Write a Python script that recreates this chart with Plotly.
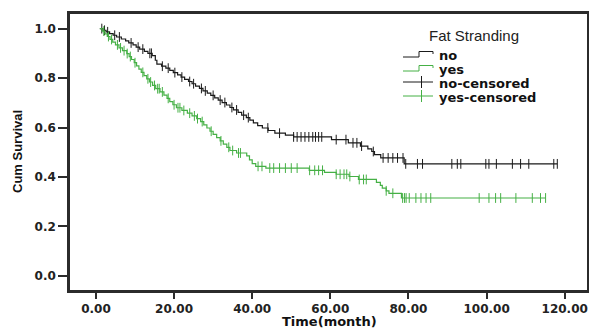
import plotly.graph_objects as go

# ---- data ----
no_time = [0, 1.0, 1.8, 2.6, 3.5, 4.4, 5.3, 6.5, 7.6, 8.4, 9.5, 10.3, 11.2, 12.4, 13.3, 14.4, 15.2, 15.6,
           16.8, 17.9, 18.9, 19.8, 20.9, 21.8, 22.7, 23.7, 24.6, 25.5, 26.5, 27.4, 28.5, 29.4, 30.4, 31.3,
           32.3, 33.4, 34.3, 35.2, 36.4, 37.3, 38.5, 39.4, 40.3, 41.4, 42.6, 44.1, 45.8, 48.5, 50.6, 60.3,
           64.6, 67.7, 69.6, 70.6, 71.3, 72.9, 78.9, 118.1]
no_surv = [1.0, 1.0, 0.993, 0.987, 0.980, 0.973, 0.966, 0.958, 0.950, 0.942, 0.934, 0.925, 0.917, 0.908, 0.900,
           0.891, 0.872, 0.856, 0.848, 0.840, 0.831, 0.822, 0.813, 0.804, 0.795, 0.786, 0.777, 0.767, 0.758,
           0.748, 0.739, 0.730, 0.720, 0.711, 0.701, 0.691, 0.681, 0.671, 0.661, 0.650, 0.640, 0.630, 0.619,
           0.608, 0.598, 0.588, 0.577, 0.569, 0.562, 0.551, 0.538, 0.525, 0.514, 0.503, 0.490, 0.477, 0.453,
           0.453]
no_cens = [1.5, 2.2, 3.0, 4.8, 6.0, 9.0, 10.8, 12.0, 13.8, 14.2, 17.0, 18.5, 20.2, 22.0, 24.0, 25.0, 27.0,
           28.0, 30.0, 31.8, 33.0, 34.8, 36.0, 37.8, 39.0, 44.0, 47.0, 50.6, 51.5, 52.5, 53.5, 54.5, 55.5,
           56.2, 57.0, 57.8, 61.5, 64.0, 65.8, 66.8, 68.0, 71.0, 73.5, 74.8, 76.0, 77.2, 78.6, 79.3, 82.3,
           83.6, 91.1, 92.5, 93.4, 99.8, 100.6, 102.5, 106.6, 108.7, 110.8, 117.2, 118.1]

yes_time = [0, 1.0, 1.6, 2.3, 2.9, 3.6, 4.3, 5.0, 5.9, 6.8, 7.9, 8.5, 9.1, 9.8, 10.4, 11.0, 11.6, 12.3, 13.0,
            13.7, 14.5, 15.3, 16.4, 17.4, 18.2, 18.9, 19.7, 20.6, 22.0, 23.4, 24.6, 25.8, 26.8, 27.6, 28.4,
            29.2, 30.0, 30.9, 31.8, 32.6, 33.5, 34.3, 36.0, 38.6, 39.3, 40.0, 40.9, 43.5, 54.6, 58.5, 61.5,
            64.8, 67.2, 71.8, 72.8, 73.3, 74.3, 75.0, 78.2, 115.1]
yes_surv = [1.0, 1.0, 0.990, 0.979, 0.968, 0.956, 0.945, 0.934, 0.922, 0.911, 0.899, 0.887, 0.875, 0.862, 0.849,
            0.836, 0.823, 0.810, 0.797, 0.784, 0.770, 0.757, 0.744, 0.731, 0.718, 0.705, 0.692, 0.680, 0.669,
            0.658, 0.647, 0.636, 0.624, 0.611, 0.598, 0.585, 0.572, 0.559, 0.546, 0.533, 0.520, 0.507, 0.497,
            0.485, 0.469, 0.454, 0.443, 0.436, 0.427, 0.419, 0.411, 0.402, 0.390, 0.378, 0.366, 0.355, 0.344,
            0.334, 0.315, 0.315]
yes_cens = [2.0, 3.2, 4.0, 5.5, 6.3, 7.2, 8.0, 8.8, 10.0, 12.0, 13.3, 14.0, 15.0, 15.8, 16.2, 17.0, 18.5,
            20.0, 21.0, 21.5, 22.5, 24.0, 25.2, 26.0, 27.2, 29.5, 32.0, 34.0, 35.0, 36.5, 37.0, 41.5, 42.5,
            44.5, 45.5, 47.0, 48.5, 50.0, 51.5, 54.7, 56.0, 57.0, 58.0, 61.5, 62.5, 63.5, 64.2, 65.0, 67.4,
            68.5, 69.2, 74.3, 76.0, 78.5, 79.0, 79.4, 80.2, 81.9, 83.2, 84.5, 85.7, 98.1, 100.6, 102.3, 103.6,
            107.5, 111.7, 113.8, 115.1]

x_ticks = [0, 20, 40, 60, 80, 100, 120]
x_tick_labels = ["0.00", "20.00", "40.00", "60.00", "80.00", "100.00", "120.00"]
y_ticks = [0, 0.2, 0.4, 0.6, 0.8, 1.0]
y_tick_labels = ["0.0", "0.2", "0.4", "0.6", "0.8", "1.0"]
legend_labels = ["no", "yes", "no-censored", "yes-censored"]

BLACK = "#1a1a1a"
GREEN = "#45b045"
FRAME = "#2b2b2b"


def surv_at(times, survs, t):
    s = survs[0]
    for ti, si in zip(times, survs):
        if ti <= t:
            s = si
        else:
            break
    return s


fig = go.Figure()
for times, survs, cens, col in [(no_time, no_surv, no_cens, BLACK), (yes_time, yes_surv, yes_cens, GREEN)]:
    fig.add_trace(go.Scatter(x=times[1:], y=survs[1:], mode="lines", line=dict(color=col, width=1.2, shape="hv"),
                             showlegend=False, hoverinfo="skip"))
    fig.add_trace(go.Scatter(x=cens, y=[surv_at(times, survs, t) for t in cens], mode="markers",
                             marker=dict(symbol="line-ns", size=7, line=dict(color=col, width=1)),
                             showlegend=False, hoverinfo="skip"))

# plot area in pixels
L, R, T, B = 70, 587, 14, 290
W, H = 589, 330


def px(x):
    return (x - L) / (R - L)


def py(y):
    return (B - y) / (B - T)


shapes = []
annotations = []
# axis titles
annotations.append(dict(x=px(329), y=py(321.5), xref="paper", yref="paper", text="<b>Time(month)</b>", showarrow=False,
                        xanchor="center", yanchor="middle",
                        font=dict(family="DejaVu Sans, sans-serif", size=13, color="#111")))
annotations.append(dict(x=px(17), y=py(152), xref="paper", yref="paper", text="<b>Cum Survival</b>", showarrow=False,
                        xanchor="center", yanchor="middle", textangle=-90,
                        font=dict(family="Liberation Sans Narrow, Liberation Sans, Arial", size=13, color="#111")))
# legend title
annotations.append(dict(x=px(474), y=py(35), xref="paper", yref="paper", text="Fat Stranding", showarrow=False,
                        xanchor="center", yanchor="middle",
                        font=dict(family="Liberation Sans, Arial, sans-serif", size=15, color="#222")))
rows_y = [55, 69, 83, 97]
cols = [BLACK, GREEN, BLACK, GREEN]
for i, (lab, yy, col) in enumerate(zip(legend_labels, rows_y, cols)):
    if i < 2:
        path = (f"M {px(403)},{py(yy+2)} L {px(419)},{py(yy+2)} L {px(419)},{py(yy-3.5)} "
                f"L {px(433)},{py(yy-3.5)} L {px(433)},{py(yy-1)}")
        shapes.append(dict(type="path", xref="paper", yref="paper", path=path, line=dict(color=col, width=1)))
    else:
        shapes.append(dict(type="line", xref="paper", yref="paper", x0=px(403), x1=px(433), y0=py(yy-1), y1=py(yy-1),
                           line=dict(color=col, width=1)))
        shapes.append(dict(type="line", xref="paper", yref="paper", x0=px(421.5), x1=px(421.5), y0=py(yy-7), y1=py(yy+5),
                           line=dict(color=col, width=1)))
    annotations.append(dict(x=px(437), y=py(yy), xref="paper", yref="paper", text=f"<b>{lab}</b>", showarrow=False,
                            xanchor="left", yanchor="middle",
                            font=dict(family="DejaVu Sans, sans-serif", size=13, color="#111")))

axis_font = dict(family="DejaVu Sans, sans-serif", size=12, color="#222")
fig.update_layout(
    width=W, height=H, margin=dict(l=L, r=W - R, t=T, b=H - B, autoexpand=False),
    paper_bgcolor="white", plot_bgcolor="white",
    shapes=shapes, annotations=annotations,
    xaxis=dict(range=[-6.64, 125.7], tickvals=x_ticks, ticktext=[f"<b>{t}</b>" for t in x_tick_labels],
               ticks="outside", ticklen=6, tickwidth=1.5, tickcolor=FRAME, showgrid=False, zeroline=False,
               showline=True, mirror=True, linecolor=FRAME, linewidth=2.5, tickfont=axis_font, automargin=False),
    yaxis=dict(range=[-0.057, 1.059], tickvals=y_ticks, ticktext=[f"<b>{t}</b>" for t in y_tick_labels],
               ticks="outside", ticklen=9, tickwidth=1.5, tickcolor=FRAME, showgrid=False, zeroline=False,
               showline=True, mirror=True, linecolor=FRAME, linewidth=2.5, tickfont=axis_font, automargin=False),
)
fig.write_html("out.html", post_script="document.body.style.margin='0';", config={"displayModeBar": False})
